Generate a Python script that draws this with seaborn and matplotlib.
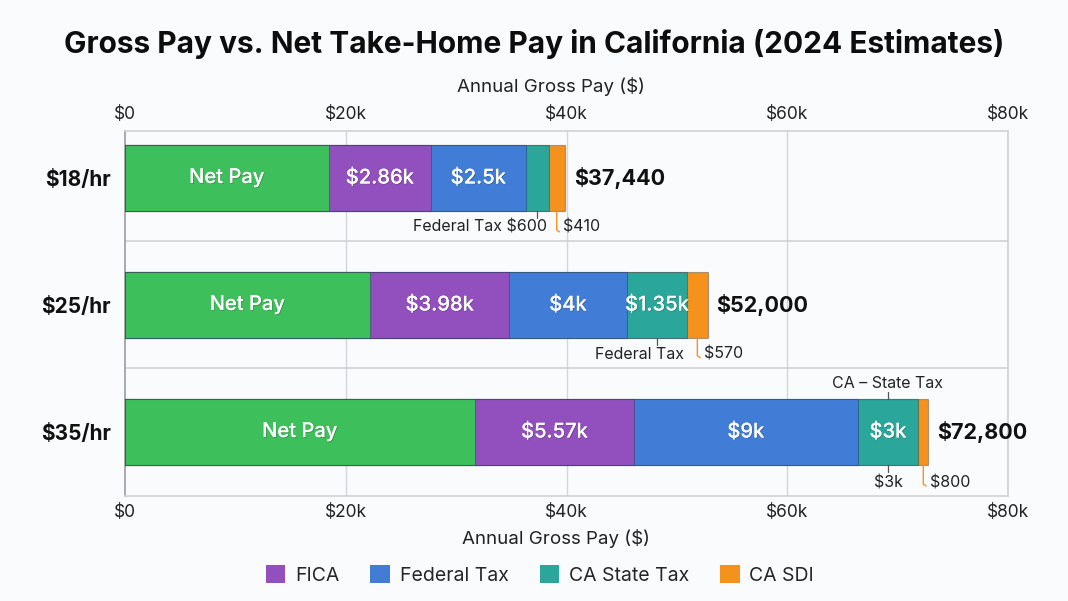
import numpy as np
import pandas as pd
import matplotlib.pyplot as plt
import seaborn as sns
from matplotlib.patches import Patch
from matplotlib.ticker import FuncFormatter
import matplotlib.patheffects as pe

rates = ['$18/hr', '$25/hr', '$35/hr']
components = ['Net Pay', 'FICA', 'Federal Tax', 'CA State Tax', 'CA SDI']

# segment widths as drawn in the reference (USD)
net_pay = [18470, 22200, 31700]
fica = [9260, 12630, 14400]
federal_tax = [8560, 10610, 20290]
state_tax = [2080, 5490, 5470]
ca_sdi = [1490, 1850, 930]

# texts printed on / next to the bars
net_labels = ['Net Pay', 'Net Pay', 'Net Pay']
fica_labels = ['$2.86k', '$3.98k', '$5.57k']
federal_labels = ['$2.5k', '$4k', '$9k']
state_labels = ['', '$1.35k', '$3k']
total_labels = ['$37,440', '$52,000', '$72,800']
xticks = [0, 20000, 40000, 60000, 80000]

colors = {
    'Net Pay': '#3dbf5c',
    'FICA': '#9150be',
    'Federal Tax': '#417dd7',
    'CA State Tax': '#2aa69b',
    'CA SDI': '#f5921e',
}

sns.set_theme(style='white')
plt.rcParams['font.family'] = ['Inter', 'DejaVu Sans']
plt.rcParams['text.parse_math'] = False

df = pd.DataFrame({'rate': rates, 'Net Pay': net_pay, 'FICA': fica,
                   'Federal Tax': federal_tax, 'CA State Tax': state_tax,
                   'CA SDI': ca_sdi})
cum = df[components].cumsum(axis=1)

fig = plt.figure(figsize=(10.68, 6.01), dpi=100)
fig.patch.set_facecolor('#fafbfc')
ax = fig.add_axes([125 / 1068, 1 - 496 / 601, 883 / 1068, 365 / 601])
ax.set_facecolor('#fafbfc')

bar_h = 0.525
# stacked bars: draw outer cumulative first, inner on top
for comp in reversed(components):
    sns.barplot(x=cum[comp], y=df['rate'], orient='h', color=colors[comp],
                saturation=1, width=bar_h, edgecolor=(0.1, 0.15, 0.25, 0.35),
                linewidth=0.8, ax=ax, zorder=3)

ax.set_xlim(0, 80000)
ax.set_ylim(2.504, -0.37)
ax.set_xticks(xticks)
ax.xaxis.set_major_formatter(FuncFormatter(lambda v, p: '$0' if v == 0 else f'${int(v / 1000)}k'))
ax.tick_params(axis='x', labeltop=True, top=False, bottom=False, length=0,
               labelsize=12.5, pad=6, colors='#222222')
ax.tick_params(axis='y', length=0, labelsize=15, pad=10)
for t in ax.get_yticklabels():
    t.set_fontweight('bold')
    t.set_color('#111111')
ax.set_xlabel('')
ax.set_ylabel('')

for x in xticks[1:]:
    ax.axvline(x, color='#d4d6d9', lw=1, zorder=0)
for y in [0.5, 1.5]:
    ax.axhline(y, color='#cfd1d4', lw=1.2, zorder=0)
for s in ['top', 'bottom', 'right']:
    ax.spines[s].set_color('#cfd1d4')
    ax.spines[s].set_linewidth(1.2)
ax.spines['left'].set_color('#9a9ca0')
ax.spines['left'].set_linewidth(1.2)

# labels inside segments
seg_texts = {'Net Pay': net_labels, 'FICA': fica_labels,
             'Federal Tax': federal_labels, 'CA State Tax': state_labels}
shadow = [pe.withSimplePatchShadow(offset=(0.6, -0.6), shadow_rgbFace='k', alpha=0.25), pe.Normal()]
for comp, labs in seg_texts.items():
    for i, lab in enumerate(labs):
        if not lab:
            continue
        xc = cum[comp][i] - df[comp][i] / 2
        ax.text(xc, i, lab, ha='center', va='center', color='white',
                fontsize=14.5, fontweight='medium', zorder=5, path_effects=shadow)

# totals
for i, lab in enumerate(total_labels):
    ax.annotate(lab, (cum['CA SDI'][i], i), xytext=(6.5, 0), textcoords='offset points',
                ha='left', va='center', fontsize=15.5, fontweight='bold',
                color='#111111', zorder=5)

# callouts for the thin segments
ann_kw = dict(fontsize=11.5, color='#222222', va='center', zorder=5)
tick_kw = dict(color='#555555', lw=0.9, zorder=4)
lead_kw = dict(color='#f5921e', lw=1.0, zorder=4)
bot = bar_h / 2
state_c = [cum['CA State Tax'][i] - state_tax[i] / 2 for i in range(3)]
sdi_c = [cum['CA SDI'][i] - ca_sdi[i] / 2 for i in range(3)]

# $18/hr
ax.plot([state_c[0]] * 2, [bot, bot + 0.055], **tick_kw)
ax.plot([sdi_c[0], sdi_c[0], sdi_c[0] + 250], [bot, 0.41, 0.425], **lead_kw)
ax.text(sdi_c[0] - 900, 0.383, 'Federal Tax $600', ha='right', **ann_kw)
ax.text(sdi_c[0] + 550, 0.383, '$410', ha='left', **ann_kw)

# $25/hr
ax.plot([state_c[1]] * 2, [1 + bot, 1 + bot + 0.05], **tick_kw)
ax.plot([sdi_c[1], sdi_c[1], sdi_c[1] + 250], [1 + bot, 1.40, 1.415], **lead_kw)
ax.text(sdi_c[1] - 1250, 1.386, 'Federal Tax', ha='right', **ann_kw)
ax.text(sdi_c[1] + 600, 1.386, '$570', ha='left', **ann_kw)

# $35/hr
ax.plot([state_c[2]] * 2, [2 - bot, 2 - bot - 0.055], **tick_kw)
ax.plot([state_c[2]] * 2, [2 + bot, 2 + bot + 0.05], **tick_kw)
ax.plot([sdi_c[2], sdi_c[2], sdi_c[2] + 250], [2 + bot, 2.41, 2.425], **lead_kw)
ax.text(state_c[2], 1.622, 'CA – State Tax', ha='center', **ann_kw)
ax.text(state_c[2], 2.40, '$3k', ha='center', **ann_kw)
ax.text(sdi_c[2] + 650, 2.40, '$800', ha='left', **ann_kw)

fig.text(534 / 1068, 1 - 44 / 601, 'Gross Pay vs. Net Take-Home Pay in California (2024 Estimates)',
         ha='center', va='center', fontsize=21.5, fontweight='bold', color='#0d0d0d')
fig.text(551 / 1068, 1 - 87 / 601, 'Annual Gross Pay ($)', ha='center', va='center',
         fontsize=13.5, color='#222222')
fig.text(556 / 1068, 1 - 538 / 601, 'Annual Gross Pay ($)', ha='center', va='center',
         fontsize=13.5, color='#222222')

handles = [Patch(facecolor=colors[c], edgecolor='none', label=c) for c in components[1:]]
fig.legend(handles=handles, loc='center', bbox_to_anchor=(540 / 1068, 1 - 575 / 601),
           ncol=4, frameon=False, fontsize=14, handlelength=1.0, handleheight=1.0,
           handletextpad=0.5, columnspacing=1.6)

fig.savefig('out.png', dpi=100, facecolor=fig.get_facecolor())
